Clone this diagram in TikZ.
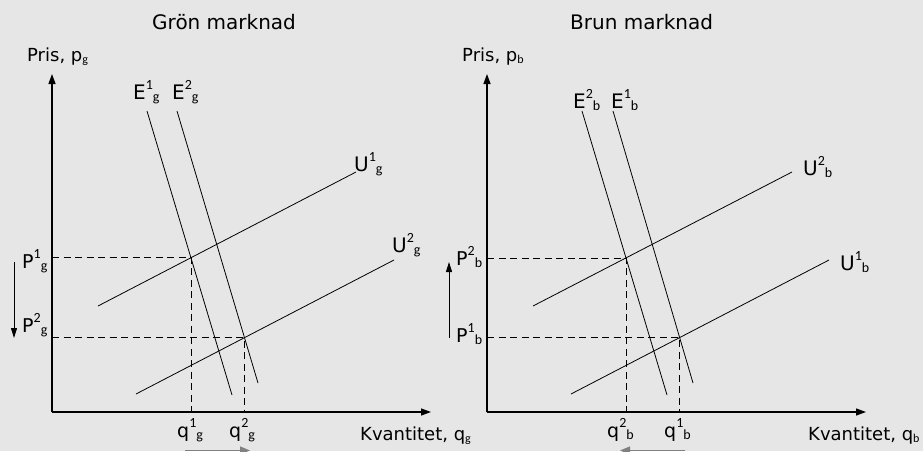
\documentclass[tikz,border=0pt]{standalone}
\usepackage{fontspec}
\setmainfont{DejaVu Sans}
\newfontfamily\smallfnt{Carlito}
\usepackage{tikz}
\usetikzlibrary{arrows.meta}
\definecolor{panelgray}{HTML}{E6E6E6}
\definecolor{shiftgray}{HTML}{808080}
% letter with a raised and a lowered index, set one after the other
\newcommand{\supsub}[3]{#1\raisebox{10pt}{\fontsize{14}{14}\smallfnt #2}\raisebox{-2.5pt}{\fontsize{14}{14}\smallfnt #3}}
\newcommand{\lowsub}[2]{#1\raisebox{-2pt}{\fontsize{12}{12}\smallfnt #2}}

\begin{document}
\begin{tikzpicture}[x=1pt,y=-1pt,
  axis/.style={line width=1.3pt,-{Triangle[length=10pt,width=7pt]}},
  curve/.style={line width=0.8pt},
  guide/.style={line width=0.8pt,dash pattern=on 7pt off 4.5pt},
  pshift/.style={line width=1pt,-{Triangle[length=10pt,width=6pt]}},
  qshift/.style={shiftgray,line width=1.5pt,-{Triangle[length=10pt,width=8pt]}},
  lab/.style={anchor=base west,inner sep=0pt,font=\fontsize{18}{20}\selectfont},
  title/.style={lab,font=\fontsize{20}{22}\selectfont},
  idx/.style={lab,font=\fontsize{20}{22}\selectfont},
  pq/.style={lab,font=\fontsize{19}{21}\selectfont}]
\fill[panelgray] (0,0) rectangle (923,451);
\clip (0,0) rectangle (923,451);
\useasboundingbox (0,0) rectangle (923,451);

% gron marknad
\node[title] (tg) at (152,29) {Grön marknad};
\node[lab] (yg) at (27,61) {Pris, \lowsub{p}{g}};
\node[lab] (xg) at (360,440) {Kvantitet, \lowsub{q}{g}};
\coordinate (Og) at (52,412);
\coordinate (Yg) at (52,74);
\coordinate (Xg) at (431,412);
\draw[axis] (Og) -- (Yg);
\draw[axis] (Og) -- (Xg);

\coordinate (Eg1a) at (147,111); \coordinate (Eg1b) at (232,395);
\coordinate (Eg2a) at (177,111); \coordinate (Eg2b) at (258,383);
\coordinate (Ug1a) at (98,306);  \coordinate (Ug1b) at (356,172);
\coordinate (Ug2a) at (136,394); \coordinate (Ug2b) at (394,260);
\draw[curve] (Eg1a) -- (Eg1b);
\draw[curve] (Eg2a) -- (Eg2b);
\draw[curve] (Ug1a) -- (Ug1b);
\draw[curve] (Ug2a) -- (Ug2b);
\node[idx] (eg1) at (133,99) {\supsub{E}{1}{g}};
\node[idx] (eg2) at (172,99) {\supsub{E}{2}{g}};
\node[idx] (ug1) at (354,171) {\supsub{U}{1}{g}};
\node[idx] (ug2) at (392,252) {\supsub{U}{2}{g}};

\coordinate (Mg1) at (intersection of Eg1a--Eg1b and Ug1a--Ug1b);
\coordinate (Mg2) at (intersection of Eg2a--Eg2b and Ug2a--Ug2b);
\draw[guide] (Og |- Mg1) -- (Mg1) -- (Mg1 |- Og);
\draw[guide] (Og |- Mg2) -- (Mg2) -- (Mg2 |- Og);
\node[pq] (pg1) at (22,268) {\supsub{P}{1}{g}};
\node[pq] (pg2) at (22,332) {\supsub{P}{2}{g}};
\node[pq] (qg1) at (177,437) {\supsub{q}{1}{g}};
\node[pq] (qg2) at (229,437) {\supsub{q}{2}{g}};
\coordinate (pga) at (14,262); \coordinate (pgb) at (14,338);
\draw[pshift] (pga) -- (pgb);
\coordinate (qga) at (185,450.5); \coordinate (qgb) at (250,450.5);
\draw[qshift] (qga) -- (qgb);

% brun marknad
\node[title] (tb) at (570,29) {Brun marknad};
\node[lab] (yb) at (462,61) {Pris, \lowsub{p}{b}};
\node[lab] (xb) at (808,440) {Kvantitet, \lowsub{q}{b}};
\coordinate (Ob) at (487,412);
\coordinate (Yb) at (487,74);
\coordinate (Xb) at (866,412);
\draw[axis] (Ob) -- (Yb);
\draw[axis] (Ob) -- (Xb);

\coordinate (Eb2a) at (582,111); \coordinate (Eb2b) at (667,395);
\coordinate (Eb1a) at (613,111); \coordinate (Eb1b) at (693,383);
\coordinate (Ub2a) at (533,306); \coordinate (Ub2b) at (792,172);
\coordinate (Ub1a) at (571,394); \coordinate (Ub1b) at (829,260);
\draw[curve] (Eb2a) -- (Eb2b);
\draw[curve] (Eb1a) -- (Eb1b);
\draw[curve] (Ub2a) -- (Ub2b);
\draw[curve] (Ub1a) -- (Ub1b);
\node[idx] (eb2) at (573,108) {\supsub{E}{2}{b}};
\node[idx] (eb1) at (611,108) {\supsub{E}{1}{b}};
\node[idx] (ub2) at (803,175) {\supsub{U}{2}{b}};
\node[idx] (ub1) at (840,270) {\supsub{U}{1}{b}};

\coordinate (Mb2) at (intersection of Eb2a--Eb2b and Ub2a--Ub2b);
\coordinate (Mb1) at (intersection of Eb1a--Eb1b and Ub1a--Ub1b);
\draw[guide] (Ob |- Mb2) -- (Mb2) -- (Mb2 |- Ob);
\draw[guide] (Ob |- Mb1) -- (Mb1) -- (Mb1 |- Ob);
\node[pq] (pb2) at (456,265) {\supsub{P}{2}{b}};
\node[pq] (pb1) at (456,342) {\supsub{P}{1}{b}};
\node[pq] (qb2) at (607,437) {\supsub{q}{2}{b}};
\node[pq] (qb1) at (664,437) {\supsub{q}{1}{b}};
\coordinate (pba) at (449,338); \coordinate (pbb) at (449,262);
\draw[pshift] (pba) -- (pbb);
\coordinate (qba) at (685,450.5); \coordinate (qbb) at (620,450.5);
\draw[qshift] (qba) -- (qbb);
\end{tikzpicture}
\end{document}
